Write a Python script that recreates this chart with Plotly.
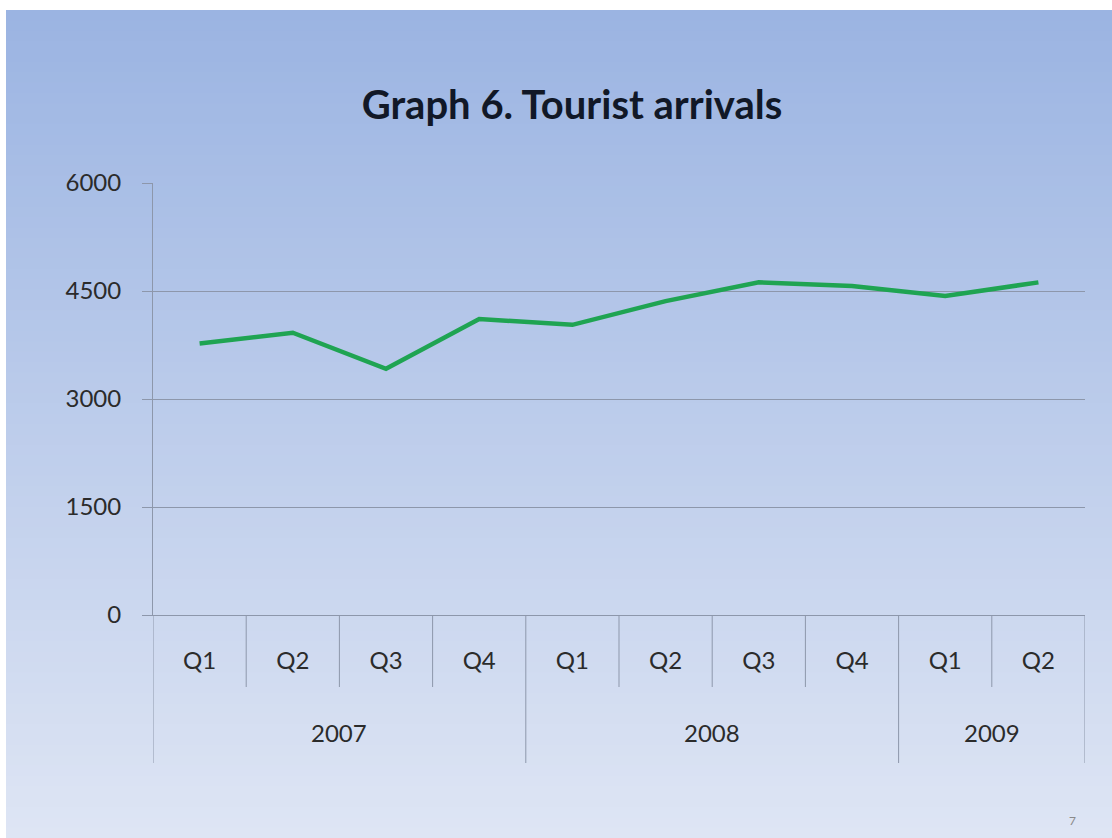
import plotly.graph_objects as go

# ---- data ----
quarters = ["Q1", "Q2", "Q3", "Q4", "Q1", "Q2", "Q3", "Q4", "Q1", "Q2"]
years = ["2007", "2008", "2009"]
year_counts = [4, 4, 2]
arrivals = [3770, 3920, 3420, 4110, 4030, 4360, 4620, 4570, 4430, 4620]
y_ticks = [0, 1500, 3000, 4500, 6000]

W, H = 1112, 838
L, R, T, B = 153, 1085, 183, 615

def px_x(p):
    return (p - L) / (R - L)

def px_y(p):
    return (B - p) / (B - T)

xs = list(range(len(quarters)))

fig = go.Figure()
fig.add_trace(go.Scatter(
    x=xs, y=arrivals, mode="lines",
    line=dict(color="#1fa452", width=4.5),
    hoverinfo="x+y", showlegend=False,
))

shapes = []
# background vertical gradient built from bands
top_c = (155, 180, 226)
bot_c = (222, 229, 244)
n = 80
y_top, y_bot = 10, H
for i in range(n):
    f = i / (n - 1)
    c = tuple(round(top_c[k] + (bot_c[k] - top_c[k]) * f) for k in range(3))
    p0 = y_top + (y_bot - y_top) * i / n
    p1 = y_top + (y_bot - y_top) * (i + 1) / n + 1
    shapes.append(dict(type="rect", xref="paper", yref="paper",
                       x0=px_x(6), x1=px_x(W + 2), y0=px_y(p1), y1=px_y(p0),
                       fillcolor="rgb(%d,%d,%d)" % c, line=dict(width=0),
                       layer="below"))

div_col = "#8d97ab"
# quarter dividers (within a year) and year dividers
start = 0
bounds = [-0.5]
for cnt in year_counts:
    for j in range(1, cnt):
        xb = start + j - 0.5
        shapes.append(dict(type="line", xref="x", yref="paper",
                           x0=xb, x1=xb, y0=0, y1=px_y(687),
                           line=dict(color=div_col, width=1)))
    start += cnt
    bounds.append(start - 0.5)
for xb in bounds:
    shapes.append(dict(type="line", xref="x", yref="paper",
                       x0=xb, x1=xb, y0=0, y1=px_y(763),
                       line=dict(color=div_col, width=1)))

annotations = []
start = 0
for yr, cnt in zip(years, year_counts):
    annotations.append(dict(x=start + (cnt - 1) / 2, y=px_y(732), xref="x", yref="paper",
                            text=yr, showarrow=False, xanchor="center", yanchor="middle",
                            font=dict(family="Lato", size=24, color="#2b2b2b")))
    start += cnt
annotations.append(dict(x=px_x(1072), y=px_y(820), xref="paper", yref="paper",
                        text="7", showarrow=False, xanchor="center", yanchor="middle",
                        font=dict(family="Lato", size=12, color="#8a8a8a")))

fig.update_layout(
    width=W, height=H,
    margin=dict(l=L, r=W - R, t=T, b=H - B, pad=0),
    paper_bgcolor="white",
    plot_bgcolor="rgba(0,0,0,0)",
    title=dict(text="<b>Graph 6. Tourist arrivals</b>", x=572 / W, y=1 - 105 / H,
               xanchor="center", yanchor="middle",
               font=dict(family="Lato", size=40, color="#111827")),
    shapes=shapes,
    annotations=annotations,
    xaxis=dict(
        range=[-0.5, len(quarters) - 0.5],
        tickvals=xs, ticktext=quarters,
        showgrid=False, zeroline=False,
        showline=True, linecolor=div_col, linewidth=1,
        ticks="", ticklabelstandoff=24,
        tickfont=dict(family="Lato", size=24, color="#2b2b2b"),
        fixedrange=True,
    ),
    yaxis=dict(
        range=[0, 6000], tickvals=y_ticks,
        showgrid=True, gridcolor=div_col, gridwidth=1,
        zeroline=False,
        showline=True, linecolor=div_col, linewidth=1,
        ticks="outside", ticklen=10, tickcolor=div_col,
        ticklabelstandoff=16,
        tickfont=dict(family="Lato", size=24, color="#2b2b2b"),
        fixedrange=True,
    ),
)

fig.write_html("out.html", config={"displayModeBar": False},
               post_script="document.body.style.margin='0';")
